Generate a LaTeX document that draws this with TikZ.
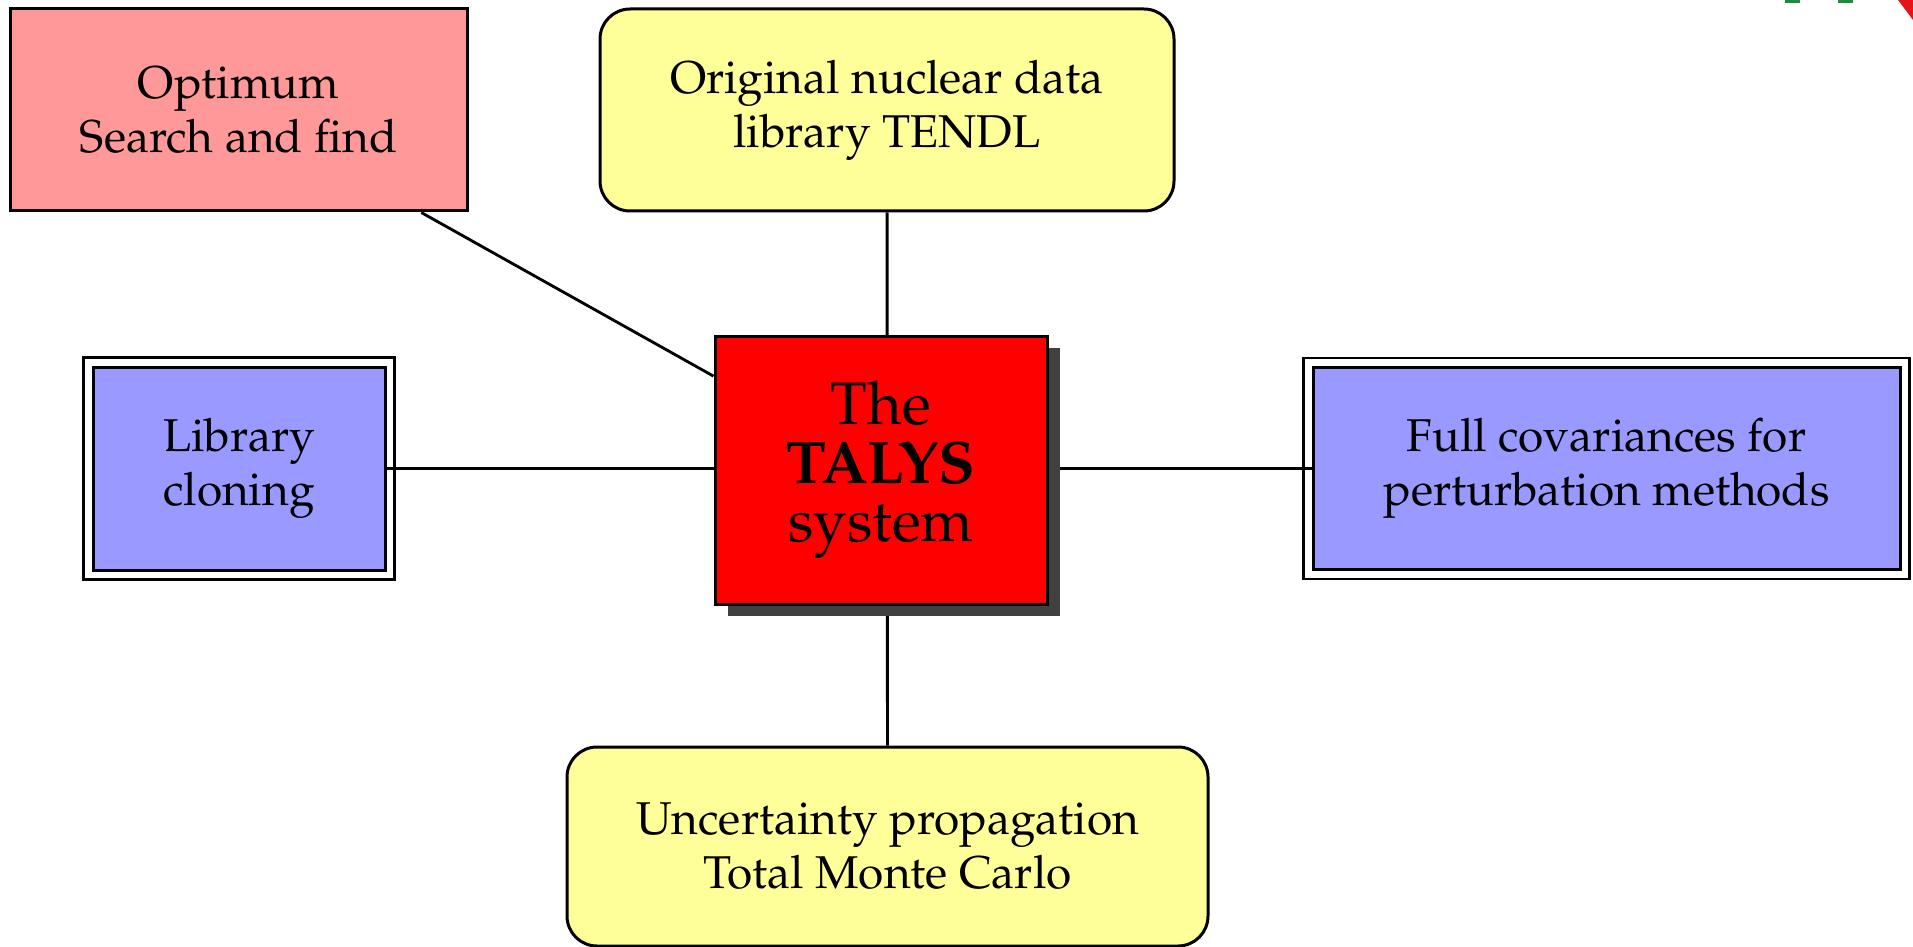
\documentclass[tikz,border=0pt]{standalone}
\usepackage[T1]{fontenc}
\usepackage{mathpazo}
\usetikzlibrary{shadows,backgrounds,calc}

\tikzset{
	kasten/.style={draw, line width=0.9pt, align=center, inner sep=0pt, font=\fontsize{13.8}{16.2}\selectfont},
	rosakasten/.style={kasten, fill={rgb, 255:red, 255; green, 153; blue, 153 }, rectangle},
	gelbkasten/.style={kasten, fill={rgb, 255:red, 255; green, 255; blue, 153 }, rounded corners=9pt},
	blaukasten/.style={kasten, fill={rgb, 255:red, 153; green, 153; blue, 255 }},
	zentrum/.style={draw, line width=0.9pt, align=center, inner sep=0pt, fill={rgb, 255:red, 255; green, 0; blue, 0 },
		font=\fontsize{18}{17.6}\selectfont, minimum width=99.6pt, minimum height=80.4pt,
		drop shadow={shadow xshift=3.9pt, shadow yshift=-3.6pt, fill={rgb, 255:red, 64; green, 64; blue, 64 }, opacity=1}},
	verbindung/.style={line width=0.85pt}
}

\begin{document}
\begin{tikzpicture}[x=0.3pt,y=0.3pt,yscale=-1,xscale=1]
		
		% Rahmen: ganze Bildfläche
		\useasboundingbox (0,0) rectangle (1913,947);
		
		% Shape: rosa Rechteck oben links
		\node [rosakasten, minimum width=137.1pt, minimum height=60.6pt] (optimum) at (238.5,110) {Optimum\\Search and find};
		
		% Shape: gelbes, abgerundetes Rechteck oben
		\node [gelbkasten, minimum width=172.2pt, minimum height=60.6pt] (tendl) at (887,110) {Original nuclear data\\library TENDL};
		
		% Shape: blaue Rechtecke links und rechts
		\node [blaukasten, minimum width=87.6pt, minimum height=60.9pt] (klonen) at (239,468.5) {Library\\cloning};
		\node [blaukasten, minimum width=176.1pt, minimum height=60.6pt] (kovarianz) at (1606.5,468.5) {Full covariances for\\perturbation methods};
		
		% Shape: gelbes, abgerundetes Rechteck unten
		\node [gelbkasten, minimum width=192.3pt, minimum height=59.7pt] (montecarlo) at (887.5,846.5) {Uncertainty propagation\\Total Monte Carlo};
		
		% Shape: rotes Zentrum mit Schatten
		\node [zentrum] (talys) at (881,470) {The\\\textbf{TALYS}\\system};
		
		% Doppelrahmen um die blauen Rechtecke
		\foreach \n in {klonen,kovarianz}
			\draw [line width=0.8pt] ($(\n.north west)+(-8,-8)$) rectangle ($(\n.south east)+(8,8)$);
		
		% Linien hinter den Kästen
		\begin{scope}[on background layer]
			\draw [verbindung] (optimum) -- (talys);
			\draw [verbindung] (tendl) -- (montecarlo);
			\draw [verbindung] (klonen) -- (kovarianz);
		\end{scope}
		
		% Logo-Reste oben rechts
		\fill [fill={rgb, 255:red, 26; green, 140; blue, 60 }] (1785,0) rectangle (1800,3);
		\fill [fill={rgb, 255:red, 26; green, 140; blue, 60 }] (1838,0) rectangle (1853,3);
		\fill [fill={rgb, 255:red, 230; green, 20; blue, 20 }] (1898,0) -- (1913,0) -- (1913,20) -- cycle;
		
	\end{tikzpicture}
\end{document}
